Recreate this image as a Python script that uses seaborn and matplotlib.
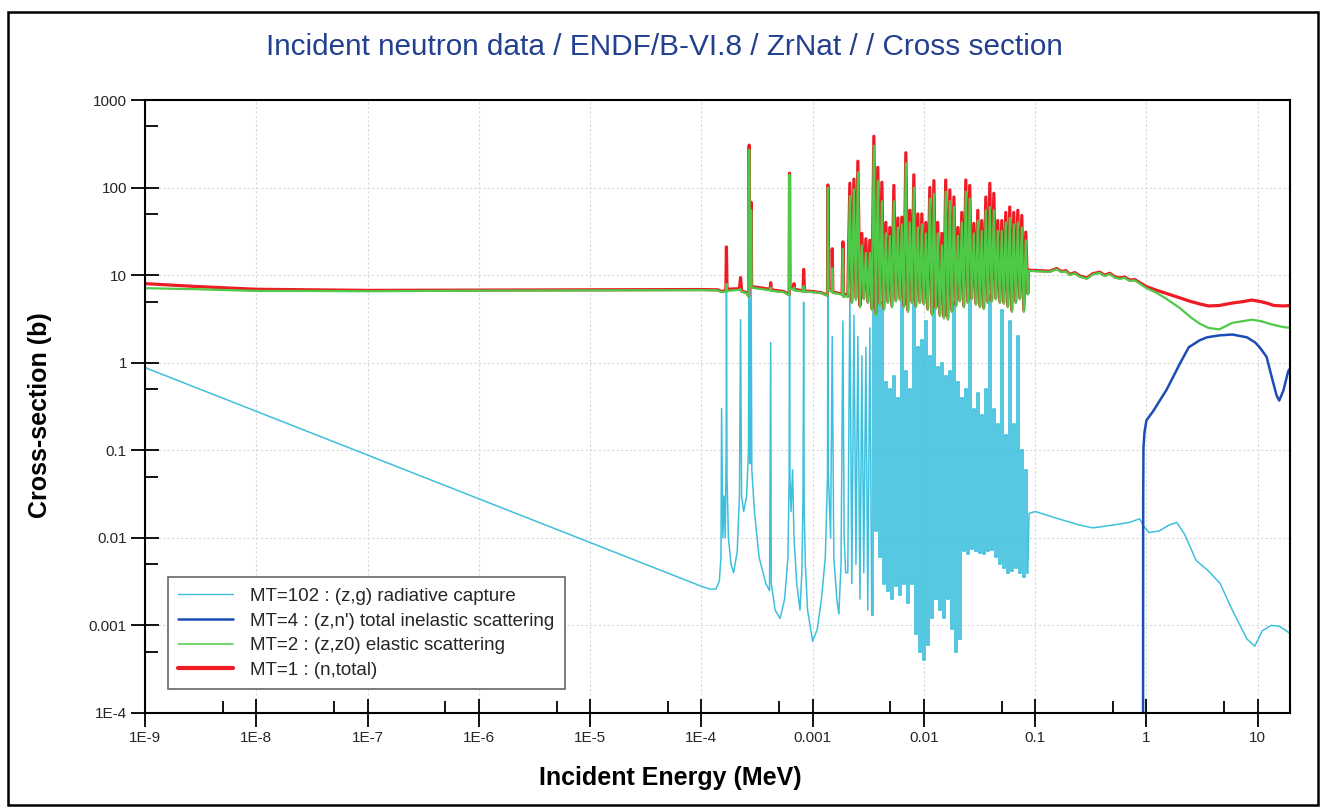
import matplotlib
matplotlib.use("Agg")
import matplotlib.pyplot as plt
import pandas as pd
import seaborn as sns
from matplotlib.lines import Line2D
from matplotlib.patches import Rectangle
from matplotlib.ticker import FixedLocator, NullFormatter

# ---------------- data (energy in MeV, cross-section in barns) ----------------
# total (MT=1) and elastic (MT=2): thermal + resolved resonances below 2 keV
low_E = [1e-9, 3e-9, 1e-8, 3e-8, 1e-7, 1e-6, 1e-5, 1e-4, 1.40e-4, 1.52e-4,
         1.66e-4, 1.68e-4, 1.70e-4, 2.20e-4, 2.25e-4, 2.30e-4, 2.55e-4, 2.67e-4, 2.69e-4, 2.72e-4,
         2.78e-4, 2.80e-4, 2.83e-4, 3.30e-4, 4.15e-4, 4.20e-4, 4.25e-4, 5.50e-4, 6.15e-4, 6.20e-4,
         6.26e-4, 6.75e-4, 6.80e-4, 6.85e-4, 8.20e-4, 8.30e-4, 8.45e-4, 1.0e-3, 1.2e-3, 1.36e-3,
         1.37e-3, 1.39e-3, 1.49e-3, 1.50e-3, 1.52e-3, 1.84e-3, 1.87e-3, 1.90e-3, 1.98e-3]
low_tot = [8.0, 7.4, 6.9, 6.8, 6.7, 6.75, 6.8, 6.85, 6.8, 6.5,
           6.7, 21, 6.9, 7.0, 9.4, 6.6, 6.3, 5.8, 305, 12,
           8.0, 68, 7.4, 7.2, 6.9, 8.2, 6.8, 6.5, 6.0, 146,
           7.3, 7.0, 8.0, 6.9, 6.6, 11.6, 6.6, 6.5, 6.3, 5.9,
           107, 7.0, 6.6, 20, 6.4, 6.1, 24, 5.8, 6.0]
low_el = [7.1, 6.9, 6.6, 6.6, 6.55, 6.65, 6.7, 6.75, 6.7, 6.4,
          6.5, 8.0, 6.6, 6.8, 6.9, 6.5, 6.2, 5.6, 270, 11,
          7.5, 55, 7.2, 7.0, 6.7, 7.2, 6.6, 6.4, 5.9, 140,
          7.1, 6.8, 7.2, 6.7, 6.5, 7.5, 6.5, 6.4, 6.25, 5.8,
          100, 6.8, 6.5, 12, 6.3, 6.0, 20, 5.6, 5.8]

# radiative capture (MT=102): 1/v part + resolved resonances below 2 keV
cap_low_E = [1e-9, 1e-4, 1.2e-4, 1.35e-4, 1.45e-4, 1.50e-4, 1.52e-4, 1.56e-4, 1.60e-4, 1.64e-4,
             1.67e-4, 1.68e-4, 1.70e-4, 1.75e-4, 1.85e-4, 1.95e-4, 2.10e-4, 2.20e-4, 2.25e-4, 2.30e-4,
             2.40e-4, 2.55e-4, 2.65e-4, 2.69e-4, 2.71e-4, 2.75e-4, 2.80e-4, 2.84e-4, 3.0e-4, 3.3e-4,
             3.8e-4, 4.1e-4, 4.2e-4, 4.25e-4, 4.6e-4, 5.1e-4, 5.6e-4, 6.0e-4, 6.15e-4, 6.2e-4,
             6.25e-4, 6.4e-4, 6.6e-4, 6.8e-4, 7.2e-4, 7.7e-4, 8.0e-4, 8.2e-4, 8.3e-4, 8.4e-4,
             8.6e-4, 9.0e-4, 1.0e-3, 1.1e-3, 1.2e-3, 1.3e-3, 1.36e-3, 1.37e-3, 1.38e-3, 1.45e-3,
             1.50e-3, 1.55e-3, 1.65e-3, 1.72e-3, 1.80e-3, 1.87e-3, 1.92e-3, 1.98e-3]
cap_low = [0.88, 0.0028, 0.0026, 0.0026, 0.0032, 0.006, 0.3, 0.01, 0.03, 0.01,
           0.1, 13, 0.05, 0.01, 0.005, 0.004, 0.007, 0.03, 3.1, 0.03,
           0.02, 0.03, 0.1, 35, 0.5, 0.07, 10, 0.06, 0.02, 0.006,
           0.003, 0.0025, 1.7, 0.003, 0.0015, 0.0012, 0.002, 0.006, 0.05, 19,
           0.05, 0.02, 0.06, 0.01, 0.003, 0.0015, 0.004, 0.03, 4.9, 0.02,
           0.005, 0.0015, 0.00066, 0.0009, 0.002, 0.006, 0.05, 8, 0.06, 0.01,
           2, 0.006, 0.002, 0.00135, 0.005, 3, 0.01, 0.004]

# resonance region 2 keV - 86 keV (shared energy grid)
res_E = [2.07e-3, 2.16e-3, 2.25e-3, 2.35e-3, 2.45e-3, 2.55e-3, 2.66e-3, 2.77e-3, 2.88e-3, 3.01e-3,
         3.13e-3, 3.27e-3, 3.40e-3, 3.55e-3, 3.70e-3, 3.85e-3, 4.02e-3, 4.19e-3, 4.36e-3, 4.55e-3,
         4.74e-3, 4.94e-3, 5.15e-3, 5.37e-3, 5.59e-3, 5.83e-3, 6.08e-3, 6.33e-3, 6.60e-3, 6.88e-3,
         7.17e-3, 7.47e-3, 7.79e-3, 8.12e-3, 8.46e-3, 8.82e-3, 9.19e-3, 9.58e-3, 9.98e-3, 1.04e-2,
         1.08e-2, 1.13e-2, 1.18e-2, 1.23e-2, 1.28e-2, 1.33e-2, 1.39e-2, 1.45e-2, 1.51e-2, 1.57e-2,
         1.64e-2, 1.71e-2, 1.78e-2, 1.86e-2, 1.94e-2, 2.02e-2, 2.10e-2, 2.19e-2, 2.28e-2, 2.38e-2,
         2.48e-2, 2.58e-2, 2.69e-2, 2.81e-2, 2.93e-2, 3.05e-2, 3.18e-2, 3.31e-2, 3.45e-2, 3.60e-2,
         3.75e-2, 3.91e-2, 4.07e-2, 4.25e-2, 4.43e-2, 4.61e-2, 4.81e-2, 5.01e-2, 5.22e-2, 5.44e-2,
         5.67e-2, 5.91e-2, 6.16e-2, 6.42e-2, 6.69e-2, 6.98e-2, 7.27e-2, 7.58e-2, 7.90e-2, 8.23e-2,
         8.58e-2]
res_tot = [5.8, 112, 5.0, 125, 5.5, 200, 4.5, 30, 5.5, 26,
           5.0, 25, 4.2, 385, 3.7, 170, 4.8, 115, 4.2, 40,
           5.0, 35, 4.5, 106, 5.2, 45, 5.5, 46, 4.5, 250,
           4.0, 55, 5.0, 140, 4.5, 50, 5.0, 50, 4.8, 40,
           4.2, 100, 3.7, 120, 4.3, 40, 3.6, 30, 3.4, 122,
           3.3, 94, 4.0, 78, 4.6, 35, 5.2, 52, 4.5, 122,
           5.0, 106, 5.5, 39, 4.8, 55, 4.5, 42, 4.3, 78,
           5.0, 112, 5.2, 86, 5.5, 42, 5.0, 42, 4.9, 52,
           4.5, 60, 4.0, 52, 5.0, 55, 5.5, 48, 4.0, 31,
           6.2]
res_el = [5.6, 80, 4.8, 95, 5.2, 150, 4.3, 22, 5.3, 18,
          4.8, 18, 4.0, 300, 3.5, 120, 4.5, 70, 4.0, 30,
          4.8, 28, 4.3, 70, 5.0, 35, 5.2, 38, 4.3, 190,
          3.8, 40, 4.8, 100, 4.3, 35, 4.8, 38, 4.6, 30,
          4.0, 75, 3.5, 85, 4.1, 30, 3.4, 22, 3.2, 90,
          3.1, 70, 3.8, 60, 4.4, 28, 5.0, 40, 4.3, 90,
          4.8, 75, 5.3, 30, 4.6, 42, 4.3, 32, 4.1, 55,
          4.8, 60, 5.0, 55, 5.3, 32, 4.8, 32, 4.7, 40,
          4.3, 45, 3.8, 38, 4.8, 40, 5.3, 35, 3.8, 25,
          6.0]
res_cap = [0.004, 6.0, 0.003, 3.5, 0.005, 2.0, 0.002, 1.2, 0.004, 1.5,
           0.0015, 2.5, 0.0013, 8.0, 0.012, 15, 0.006, 5, 0.003, 0.6,
           0.0025, 0.5, 0.002, 0.7, 0.0028, 0.4, 0.0022, 8, 0.003, 0.8,
           0.0018, 0.5, 0.003, 10, 0.0008, 1.5, 0.0005, 1.8, 0.0004, 3,
           0.0006, 1.2, 0.0012, 6, 0.002, 0.9, 0.0015, 1.0, 0.0012, 0.7,
           0.002, 0.8, 0.0009, 5, 0.0005, 0.6, 0.0007, 0.4, 0.007, 0.5,
           0.0065, 8, 0.0075, 0.3, 0.007, 0.45, 0.0068, 0.25, 0.0065, 0.5,
           0.007, 6, 0.0072, 0.3, 0.006, 0.2, 0.005, 4, 0.0045, 0.15,
           0.004, 3, 0.0042, 0.2, 0.0045, 2, 0.004, 0.1, 0.0036, 0.06,
           0.004]

# fast region, total and elastic
fast_E = [8.7e-2, 0.1, 0.135, 0.156, 0.173, 0.188, 0.205, 0.227, 0.252, 0.291,
          0.33, 0.38, 0.42, 0.468, 0.519, 0.575, 0.638, 0.708, 0.785, 0.871,
          1.0, 1.2, 1.5, 2.0, 2.5, 3.0, 3.6, 4.5, 5.9, 7.5,
          8.8, 10.5, 12, 14, 17, 20]
fast_tot = [11.4, 11.3, 11.1, 11.9, 11.0, 11.3, 10.2, 10.7, 9.8, 9.3,
            10.4, 10.8, 10.0, 10.5, 9.6, 9.3, 9.5, 8.8, 8.9, 8.2,
            7.4, 6.8, 6.2, 5.5, 5.0, 4.7, 4.45, 4.5, 4.8, 5.0,
            5.2, 5.0, 4.8, 4.5, 4.45, 4.5]
fast_el = [11.2, 11.1, 10.9, 11.7, 10.8, 11.1, 10.0, 10.5, 9.6, 9.1,
           10.2, 10.6, 9.8, 10.3, 9.4, 9.1, 9.3, 8.6, 8.7, 8.0,
           7.1, 6.4, 5.4, 4.2, 3.3, 2.8, 2.5, 2.4, 2.85, 3.0,
           3.1, 3.0, 2.85, 2.7, 2.55, 2.5]

# fast region, capture
cap_fast_E = [8.8e-2, 0.1, 0.15, 0.25, 0.33, 0.5, 0.7, 0.87, 0.93, 1.05,
              1.3, 1.6, 1.87, 2.2, 2.8, 3.6, 4.6, 5.9, 8.0, 9.4,
              11, 13.2, 15.6, 18, 20]
cap_fast = [0.019, 0.02, 0.017, 0.014, 0.013, 0.014, 0.015, 0.0165, 0.014, 0.0115,
            0.012, 0.014, 0.015, 0.011, 0.0055, 0.0042, 0.003, 0.0015, 0.0007, 0.00058,
            0.00087, 0.001, 0.00098, 0.00087, 0.00079]

# total inelastic (MT=4)
inel_E = [0.93, 0.935, 0.94, 0.96, 1.0, 1.15, 1.3, 1.5, 1.75, 2.0,
          2.4, 3.0, 3.5, 4.5, 5.9, 8.0, 9.5, 10.4, 12, 13.6,
          14.8, 15.6, 17, 18.8, 20]
inel_xs = [1e-6, 0.03, 0.107, 0.16, 0.22, 0.28, 0.36, 0.48, 0.7, 0.98,
           1.5, 1.8, 1.95, 2.05, 2.1, 1.95, 1.7, 1.5, 1.17, 0.63,
           0.42, 0.37, 0.48, 0.8, 0.9]

labels = ["MT=102 : (z,g) radiative capture",
          "MT=4 : (z,n') total inelastic scattering",
          "MT=2 : (z,z0) elastic scattering",
          "MT=1 : (n,total)"]
x_ticks = [1e-9, 1e-8, 1e-7, 1e-6, 1e-5, 1e-4, 1e-3, 1e-2, 1e-1, 1, 10]
x_ticklabels = ["1E-9", "1E-8", "1E-7", "1E-6", "1E-5", "1E-4", "0.001", "0.01", "0.1", "1", "10"]
y_ticks = [1e-4, 1e-3, 1e-2, 1e-1, 1, 10, 100, 1000]
y_ticklabels = ["1E-4", "0.001", "0.01", "0.1", "1", "10", "100", "1000"]
x_minor = [5e-9, 5e-8, 5e-7, 5e-6, 5e-5, 5e-4, 5e-3, 5e-2, 0.5, 5]
y_minor = [5e-4, 5e-3, 5e-2, 0.5, 5, 50, 500]

# ---------------- frames ----------------
tot_df = pd.DataFrame({"E": low_E + res_E + fast_E, "xs": low_tot + res_tot + fast_tot})
el_df = pd.DataFrame({"E": low_E + res_E + fast_E, "xs": low_el + res_el + fast_el})
# capture: the dense band (from ~3.4 keV) is drawn as a histogram
k = 12
cap_a = pd.DataFrame({"E": cap_low_E + res_E[:k + 1], "xs": cap_low + res_cap[:k + 1]})
cap_b = pd.DataFrame({"E": res_E[k:], "xs": res_cap[k:]})
cap_c = pd.DataFrame({"E": res_E[-1:] + cap_fast_E, "xs": res_cap[-1:] + cap_fast})
inel_df = pd.DataFrame({"E": inel_E, "xs": inel_xs})

# ---------------- styling ----------------
sns.set_theme(style="white")
plt.rcParams['font.family'] = ['Liberation Sans', 'DejaVu Sans']

c_cap = "#3ec0dd"
c_inel = "#1c4db5"
c_el = "#4fca48"
c_tot = "#ee1a24"

fig = plt.figure(figsize=(13.29, 8.11), dpi=100)
ax = fig.add_axes([145 / 1329, 1 - 713 / 811, (1290 - 145) / 1329, (713 - 100) / 811])
ax.set_xscale("log")
ax.set_yscale("log")

kw = dict(ax=ax, x="E", y="xs", estimator=None, sort=False, legend=False)
sns.lineplot(data=cap_a, color=c_cap, lw=1.1, **kw)
sns.lineplot(data=cap_b, color=c_cap, lw=1.25, drawstyle="steps-mid", **kw)
sns.lineplot(data=cap_c, color=c_cap, lw=1.1, **kw)
sns.lineplot(data=inel_df, color=c_inel, lw=1.8, **kw)
sns.lineplot(data=tot_df, color=c_tot, lw=2.3, **kw)
sns.lineplot(data=el_df, color=c_el, lw=1.6, **kw)

ax.set_xlim(1e-9, 19.5)
ax.set_ylim(1e-4, 1000)
ax.set_xlabel("")
ax.set_ylabel("")

ax.set_xticks(x_ticks)
ax.set_xticklabels(x_ticklabels)
ax.set_yticks(y_ticks)
ax.set_yticklabels(y_ticklabels)
ax.xaxis.set_minor_locator(FixedLocator(x_minor))
ax.yaxis.set_minor_locator(FixedLocator(y_minor))
ax.xaxis.set_minor_formatter(NullFormatter())
ax.yaxis.set_minor_formatter(NullFormatter())
ax.tick_params(which="major", direction="inout", length=20, width=1.3, color="black",
               labelsize=11, pad=3, bottom=True, left=True)
ax.tick_params(which="minor", direction="in", length=9, width=1.3, color="black",
               bottom=True, left=True)
ax.grid(True, which="major", color="#d8d8d8", lw=0.8, ls=(0, (2, 2)))
for s in ax.spines.values():
    s.set_color("black")
    s.set_linewidth(1.5)

handles = [Line2D([], [], color=c_cap, lw=1.0),
           Line2D([], [], color=c_inel, lw=1.8),
           Line2D([], [], color=c_el, lw=1.1),
           Line2D([], [], color=c_tot, lw=3.0)]
leg = ax.legend(handles, labels, loc="lower left", bbox_to_anchor=(0.02, 0.039),
                borderaxespad=0, frameon=True, fancybox=False, edgecolor="#666666",
                fontsize=13.5, handlelength=2.9, handletextpad=0.95, labelspacing=0.4,
                borderpad=0.55, framealpha=1)
leg.get_frame().set_linewidth(1.2)

fig.text(0.5, 1 - 47 / 811, "Incident neutron data / ENDF/B-VI.8 / ZrNat / / Cross section",
         ha="center", va="center", fontsize=21.4, color="#22408f")
fig.text(40 / 1329, 1 - 415 / 811, "Cross-section (b)", rotation=90, ha="center", va="center",
         fontsize=18, fontweight="bold", color="black")
fig.text(670 / 1329, 1 - 778 / 811, "Incident Energy (MeV)", ha="center", va="center",
         fontsize=18, fontweight="bold", color="black")

fig.patches.append(Rectangle((8 / 1329, 1 - 805 / 811), 1310 / 1329, 793 / 811,
                             transform=fig.transFigure, fill=False, lw=1.8, ec="black"))

fig.savefig("out.png", dpi=100)
